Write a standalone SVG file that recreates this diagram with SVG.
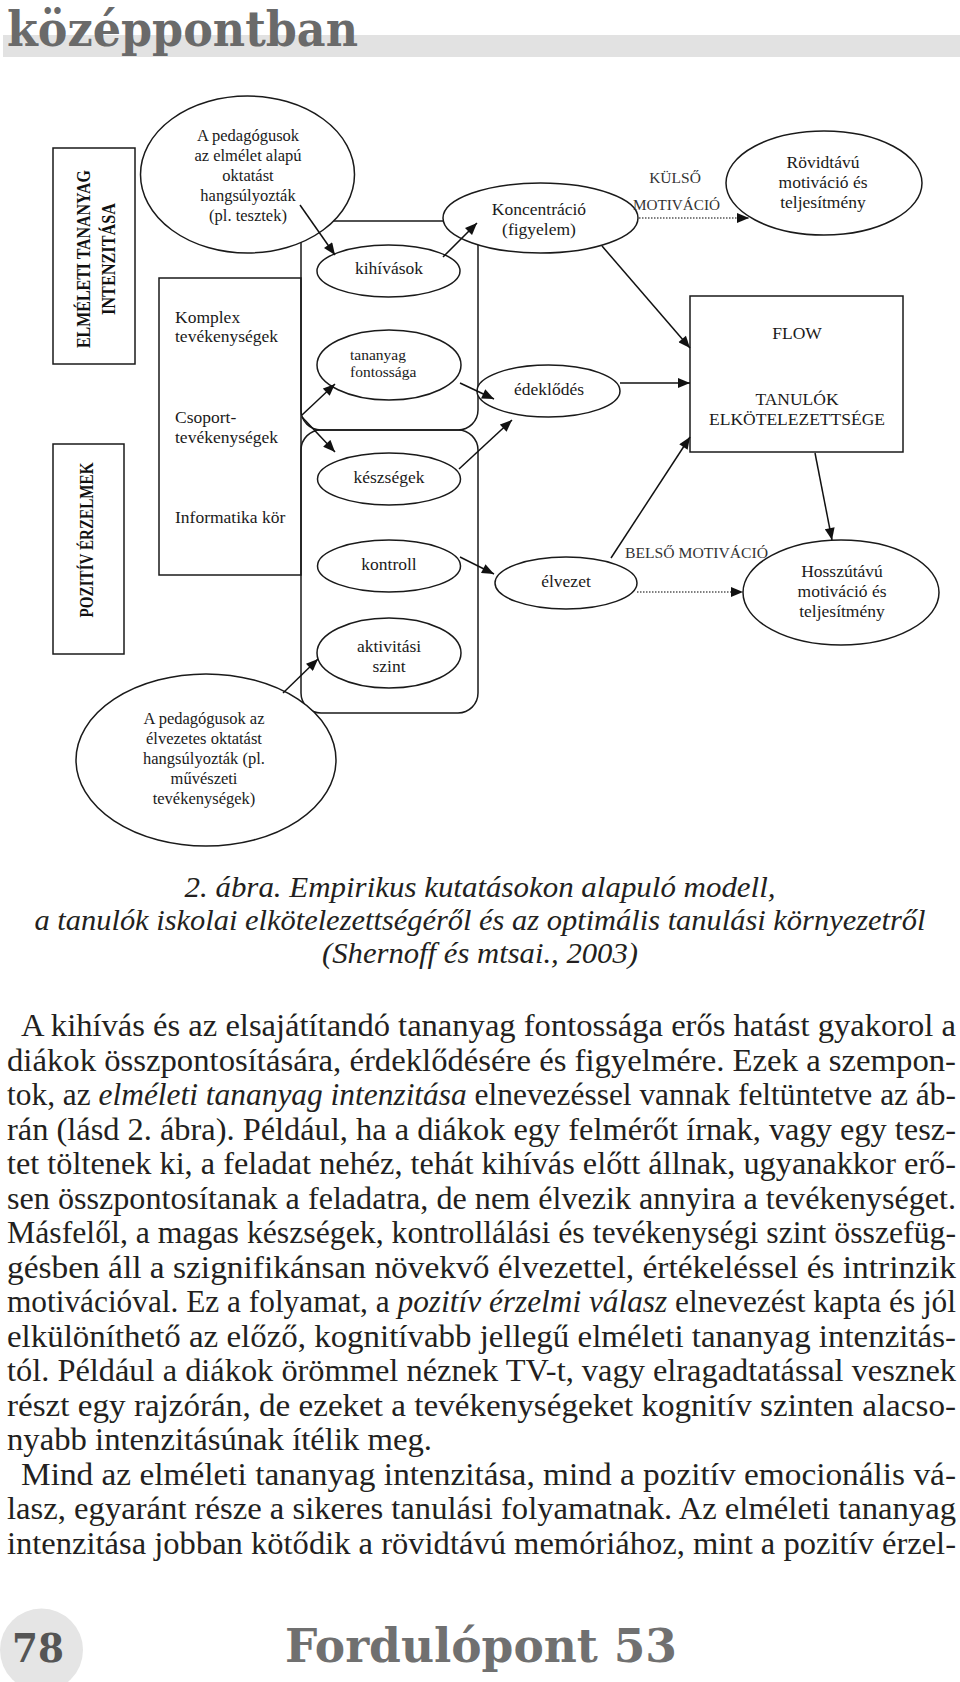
<svg xmlns="http://www.w3.org/2000/svg" width="960" height="1682" viewBox="0 0 960 1682">
<defs>
<marker id="ah" viewBox="0 0 12 10" refX="12" refY="5" markerWidth="13" markerHeight="10" markerUnits="userSpaceOnUse" orient="auto"><path d="M0,0 L12,5 L0,10 z" fill="#111"/></marker>
</defs>
<style>
.nd{fill:#fff;stroke:#1a1a1a;stroke-width:1.5}
.box{fill:none;stroke:#1a1a1a;stroke-width:1.5}
.t{font-family:"Liberation Serif","Times New Roman",serif;font-size:17.5px;fill:#1a1a1a}
.tc{text-anchor:middle}
.s16{font-size:16.5px}
.s15{font-size:15.5px}
.lab{font-family:"Liberation Serif","Times New Roman",serif;font-size:15.5px;fill:#333}
.vb{font-family:"Liberation Serif","Times New Roman",serif;font-weight:bold;font-size:18.5px;fill:#111;text-anchor:middle}
.arr{fill:none;stroke:#111;stroke-width:1.5;marker-end:url(#ah)}
.dot{fill:none;stroke:#555;stroke-width:1.5;stroke-dasharray:1.5,1.5;marker-end:url(#ah)}
.body{font-family:"Liberation Serif","Times New Roman",serif;font-size:31px;fill:#231f20}
.cap{font-family:"Liberation Serif","Times New Roman",serif;font-style:italic;font-size:30px;fill:#231f20;text-anchor:middle}
.it{font-style:italic}
</style>
<rect width="960" height="1682" fill="#fff"/>

<g id="header">
<rect x="3" y="35" width="957" height="22" fill="#e2e2e2"/>
<text x="7" y="45.5" font-family="DejaVu Serif, serif" font-weight="bold" font-size="49" fill="#6a6a6a" textLength="351" lengthAdjust="spacingAndGlyphs">középpontban</text>
</g>

<g id="box-elmeleti">
<rect class="box" x="53" y="148" width="82" height="216"/>
<text class="vb" transform="translate(90,259) rotate(-90)" textLength="178" lengthAdjust="spacingAndGlyphs">ELMÉLETI TANANYAG</text>
<text class="vb" transform="translate(115,259) rotate(-90)" textLength="112" lengthAdjust="spacingAndGlyphs">INTENZITÁSA</text>
</g>

<g id="box-pozitiv">
<rect class="box" x="53" y="444" width="71" height="210"/>
<text class="vb" transform="translate(93,540) rotate(-90)" textLength="155" lengthAdjust="spacingAndGlyphs">POZITÍV ÉRZELMEK</text>
</g>

<g id="group-top">
<rect class="box" x="301" y="221" width="177" height="209" rx="20"/>
</g>
<g id="group-bottom">
<rect class="box" x="301" y="430" width="177" height="283" rx="20"/>
</g>

<g id="box-activities">
<rect class="box" x="159" y="278" width="142" height="297"/>
<text class="t" x="175" y="323">Komplex</text>
<text class="t" x="175" y="342">tevékenységek</text>
<text class="t" x="175" y="423">Csoport-</text>
<text class="t" x="175" y="443">tevékenységek</text>
<text class="t" x="175" y="523">Informatika kör</text>
</g>

<g id="n-ped-elmelet">
<ellipse class="nd" cx="247.5" cy="174.5" rx="107" ry="78.5"/>
<text class="t tc s16" x="248" y="141">A pedagógusok</text>
<text class="t tc s16" x="248" y="161">az elmélet alapú</text>
<text class="t tc s16" x="248" y="181">oktatást</text>
<text class="t tc s16" x="248" y="201">hangsúlyozták</text>
<text class="t tc s16" x="248" y="221">(pl. tesztek)</text>
</g>

<g id="n-kihivasok">
<ellipse class="nd" cx="388.5" cy="271" rx="71.5" ry="26"/>
<text class="t tc" x="389" y="274">kihívások</text>
</g>

<g id="n-tananyag">
<ellipse class="nd" cx="389" cy="365" rx="72" ry="35"/>
<text class="t s15" x="350" y="360">tananyag</text>
<text class="t s15" x="350" y="377">fontossága</text>
</g>

<g id="n-keszsegek">
<ellipse class="nd" cx="389" cy="479" rx="71.5" ry="26"/>
<text class="t tc" x="389" y="483">készségek</text>
</g>

<g id="n-kontroll">
<ellipse class="nd" cx="389" cy="566" rx="71.5" ry="26"/>
<text class="t tc" x="389" y="570">kontroll</text>
</g>

<g id="n-aktivitas">
<ellipse class="nd" cx="389" cy="653" rx="72" ry="35"/>
<text class="t tc" x="389" y="652">aktivitási</text>
<text class="t tc" x="389" y="672">szint</text>
</g>

<g id="n-ped-elvezetes">
<ellipse class="nd" cx="206" cy="760" rx="130" ry="86"/>
<text class="t tc s16" x="204" y="724">A pedagógusok az</text>
<text class="t tc s16" x="204" y="744">élvezetes oktatást</text>
<text class="t tc s16" x="204" y="764">hangsúlyozták (pl.</text>
<text class="t tc s16" x="204" y="784">művészeti</text>
<text class="t tc s16" x="204" y="804">tevékenységek)</text>
</g>

<g id="n-koncentracio">
<ellipse class="nd" cx="540.5" cy="218" rx="97.5" ry="35"/>
<text class="t tc" x="539" y="215">Koncentráció</text>
<text class="t tc" x="539" y="235">(figyelem)</text>
</g>

<g id="n-rovidtavu">
<ellipse class="nd" cx="824" cy="183" rx="98" ry="52"/>
<text class="t tc" x="823" y="168">Rövidtávú</text>
<text class="t tc" x="823" y="188">motiváció és</text>
<text class="t tc" x="823" y="208">teljesítmény</text>
</g>

<g id="n-erdeklodes">
<ellipse class="nd" cx="548.5" cy="391" rx="71.5" ry="26"/>
<text class="t tc" x="549" y="395">édeklődés</text>
</g>

<g id="n-flow">
<rect class="box" x="690" y="296" width="213" height="156" fill="#fff"/>
<text class="t tc" x="797" y="339" font-size="19">FLOW</text>
<text class="t tc" x="797" y="405">TANULÓK</text>
<text class="t tc" x="797" y="425">ELKÖTELEZETTSÉGE</text>
</g>

<g id="n-elvezet">
<ellipse class="nd" cx="566" cy="583" rx="71" ry="26"/>
<text class="t tc" x="566" y="587">élvezet</text>
</g>

<g id="n-hosszutavu">
<ellipse class="nd" cx="841" cy="592.5" rx="98" ry="52.5"/>
<text class="t tc" x="842" y="577">Hosszútávú</text>
<text class="t tc" x="842" y="597">motiváció és</text>
<text class="t tc" x="842" y="617">teljesítmény</text>
</g>

<g id="connectors">
<line class="arr" x1="300" y1="205" x2="335" y2="255"/>
<line class="arr" x1="443" y1="257" x2="477" y2="223"/>
<line class="arr" x1="302" y1="415" x2="335" y2="384"/>
<line class="arr" x1="302" y1="417" x2="335" y2="452"/>
<line class="arr" x1="460" y1="383" x2="494" y2="399"/>
<line class="arr" x1="459" y1="469" x2="512" y2="420"/>
<line class="arr" x1="460" y1="557" x2="494" y2="574"/>
<line class="arr" x1="283" y1="693" x2="318" y2="659"/>
<line class="arr" x1="602" y1="246" x2="690" y2="348"/>
<line class="arr" x1="620" y1="383" x2="690" y2="383"/>
<line class="arr" x1="611" y1="558" x2="690" y2="437"/>
<line class="arr" x1="815" y1="453" x2="832" y2="540"/>
<line class="dot" x1="639" y1="218" x2="749" y2="218"/>
<line class="dot" x1="637" y1="592" x2="743" y2="592"/>
<text class="lab" x="675" y="183" text-anchor="middle">KÜLSŐ</text>
<text class="lab" x="633" y="210" textLength="87" lengthAdjust="spacingAndGlyphs">MOTIVÁCIÓ</text>
<text class="lab" x="625" y="558" textLength="143" lengthAdjust="spacingAndGlyphs">BELSŐ MOTIVÁCIÓ</text>
</g>

<g id="caption">
<text class="cap" x="480" y="897" textLength="591" lengthAdjust="spacingAndGlyphs">2. ábra. Empirikus kutatásokon alapuló modell,</text>
<text class="cap" x="480" y="930" textLength="891" lengthAdjust="spacingAndGlyphs">a tanulók iskolai elkötelezettségéről és az optimális tanulási környezetről</text>
<text class="cap" x="480" y="963" textLength="316" lengthAdjust="spacingAndGlyphs">(Shernoff és mtsai., 2003)</text>
</g>

<g id="body">
<text class="body" x="21" y="1036" textLength="935" lengthAdjust="spacingAndGlyphs">A kihívás és az elsajátítandó tananyag fontossága erős hatást gyakorol a</text>
<text class="body" x="7" y="1070.5" textLength="949" lengthAdjust="spacingAndGlyphs">diákok összpontosítására, érdeklődésére és figyelmére. Ezek a szempon-</text>
<text class="body" x="7" y="1105" textLength="949" lengthAdjust="spacingAndGlyphs">tok, az <tspan class="it">elméleti tananyag intenzitása</tspan> elnevezéssel vannak feltüntetve az áb-</text>
<text class="body" x="7" y="1139.5" textLength="949" lengthAdjust="spacingAndGlyphs">rán (lásd 2. ábra). Például, ha a diákok egy felmérőt írnak, vagy egy tesz-</text>
<text class="body" x="7" y="1174" textLength="949" lengthAdjust="spacingAndGlyphs">tet töltenek ki, a feladat nehéz, tehát kihívás előtt állnak, ugyanakkor erő-</text>
<text class="body" x="7" y="1208.5" textLength="949" lengthAdjust="spacingAndGlyphs">sen összpontosítanak a feladatra, de nem élvezik annyira a tevékenységet.</text>
<text class="body" x="7" y="1243" textLength="949" lengthAdjust="spacingAndGlyphs">Másfelől, a magas készségek, kontrollálási és tevékenységi szint összefüg-</text>
<text class="body" x="7" y="1277.5" textLength="949" lengthAdjust="spacingAndGlyphs">gésben áll a szignifikánsan növekvő élvezettel, értékeléssel és intrinzik</text>
<text class="body" x="7" y="1312" textLength="949" lengthAdjust="spacingAndGlyphs">motivációval. Ez a folyamat, a <tspan class="it">pozitív érzelmi válasz</tspan> elnevezést kapta és jól</text>
<text class="body" x="7" y="1346.5" textLength="949" lengthAdjust="spacingAndGlyphs">elkülöníthető az előző, kognitívabb jellegű elméleti tananyag intenzitás-</text>
<text class="body" x="7" y="1381" textLength="949" lengthAdjust="spacingAndGlyphs">tól. Például a diákok örömmel néznek TV-t, vagy elragadtatással vesznek</text>
<text class="body" x="7" y="1415.5" textLength="949" lengthAdjust="spacingAndGlyphs">részt egy rajzórán, de ezeket a tevékenységeket kognitív szinten alacso-</text>
<text class="body" x="7" y="1450" textLength="425" lengthAdjust="spacingAndGlyphs">nyabb intenzitásúnak ítélik meg.</text>
<text class="body" x="21" y="1484.5" textLength="935" lengthAdjust="spacingAndGlyphs">Mind az elméleti tananyag intenzitása, mind a pozitív emocionális vá-</text>
<text class="body" x="7" y="1519" textLength="949" lengthAdjust="spacingAndGlyphs">lasz, egyaránt része a sikeres tanulási folyamatnak. Az elméleti tananyag</text>
<text class="body" x="7" y="1553.5" textLength="949" lengthAdjust="spacingAndGlyphs">intenzitása jobban kötődik a rövidtávú memóriához, mint a pozitív érzel-</text>
</g>

<g id="footer">
<circle cx="41.5" cy="1650" r="41.5" fill="#e5e5e5"/>
<text x="12" y="1662" font-family="DejaVu Serif, serif" font-weight="bold" font-size="40" fill="#555" textLength="52" lengthAdjust="spacingAndGlyphs">78</text>
<text x="285" y="1662" font-family="DejaVu Serif, serif" font-weight="bold" font-size="46" fill="#707070" textLength="392" lengthAdjust="spacingAndGlyphs">Fordulópont 53</text>
</g>
</svg>
